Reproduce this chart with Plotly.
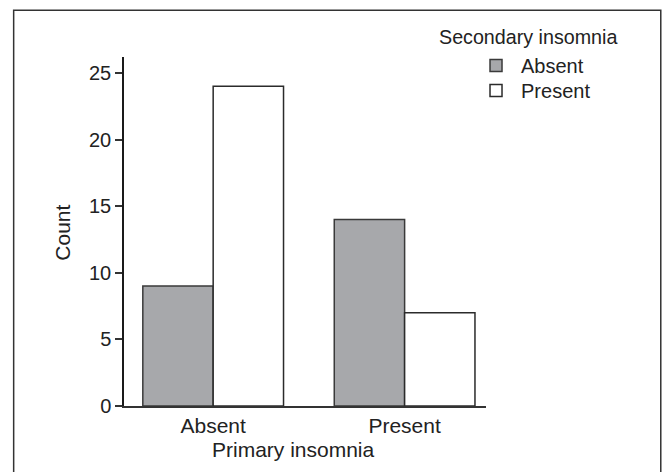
import plotly.graph_objects as go

categories = ["Absent", "Present"]          # Primary insomnia
secondary_absent = [9, 14]                  # Secondary insomnia: Absent
secondary_present = [24, 7]                 # Secondary insomnia: Present
y_ticks = [0, 5, 10, 15, 20, 25]

FONT = "Liberation Sans, Arial, sans-serif"
DARK = "#222222"

fig = go.Figure()
fig.add_trace(go.Bar(
    x=categories, y=secondary_absent, name="Absent", legend="legend",
    marker=dict(color="#a7a8ab", line=dict(color="#3a3a3a", width=1.5)),
))
fig.add_trace(go.Bar(
    x=categories, y=secondary_present, name="Present", legend="legend2",
    marker=dict(color="#ffffff", line=dict(color="#2b2b2b", width=1.5)),
))

legend_common = dict(
    xanchor="left", yanchor="middle",
    font=dict(family=FONT, size=20, color=DARK),
    bgcolor="rgba(0,0,0,0)", itemwidth=40,
)

fig.update_layout(
    width=662, height=472,
    margin=dict(l=123.5, r=176, t=56.5, b=66, pad=0, autoexpand=False),
    paper_bgcolor="white", plot_bgcolor="white",
    font=dict(family=FONT, size=20, color=DARK),
    barmode="group", bargap=0.265, bargroupgap=0,
    showlegend=True,
    legend=dict(x=0.9586, y=(406 - 65) / 349.5, **legend_common),
    legend2=dict(x=0.9586, y=(406 - 90) / 349.5, **legend_common),
    xaxis=dict(
        type="category", range=[-0.4658, 1.4251],
        showline=True, linecolor="#333333", linewidth=2,
        ticks="", showgrid=False, zeroline=False,
        tickfont=dict(family=FONT, size=21, color=DARK),
        fixedrange=True,
    ),
    yaxis=dict(
        range=[0, 26.2], tickvals=y_ticks,
        showline=True, linecolor="#1a1a1a", linewidth=1.5,
        ticks="outside", ticklen=7, tickwidth=1.5, tickcolor="#333333",
        showgrid=False, zeroline=False,
        tickfont=dict(family=FONT, size=20, color=DARK),
        fixedrange=True,
    ),
    annotations=[
        dict(text="Secondary insomnia", xref="paper", yref="paper",
             x=0.864, y=1.0573, xanchor="left", yanchor="middle",
             showarrow=False, font=dict(family=FONT, size=19.7, color=DARK)),
        dict(text="Primary insomnia", xref="paper", yref="paper",
             x=0.4684, y=-0.126, xanchor="center", yanchor="middle",
             showarrow=False, font=dict(family=FONT, size=21, color=DARK)),
        dict(text="Count", xref="paper", yref="paper",
             x=-0.1697, y=0.4953, xanchor="center", yanchor="middle",
             textangle=-90, showarrow=False,
             font=dict(family=FONT, size=21, color=DARK)),
    ],
    shapes=[
        dict(type="rect", xref="paper", yref="paper",
             x0=-0.3048, x1=1.4828, y0=-0.2, y1=1.1337,
             line=dict(color="#333333", width=1.5), fillcolor="rgba(0,0,0,0)",
             layer="below"),
    ],
)

fig.write_html(
    "out.html",
    config={"displayModeBar": False},
    post_script="document.body.style.margin='0';document.body.style.padding='0';"
                "document.body.style.overflow='hidden';",
)
